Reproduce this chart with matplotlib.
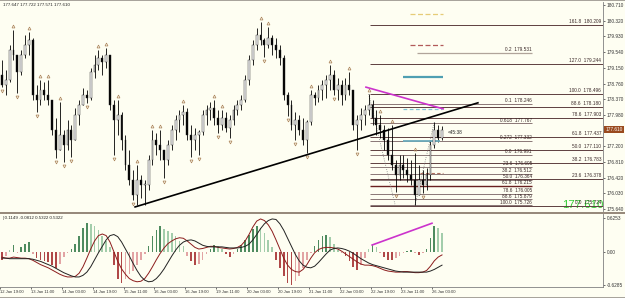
import numpy as np
import matplotlib.pyplot as plt
from matplotlib.patches import Rectangle

plt.rcParams['font.family'] = ['Liberation Sans', 'DejaVu Sans']

# --- price bars ---
first_open = 178.97
highs = [179.35, 179.10, 179.72, 180.09, 179.47, 179.59, 179.97, 180.04, 179.89, 178.72,
         178.85, 178.80, 178.85, 178.35, 177.90, 178.30, 177.60, 177.85, 177.73, 178.15,
         178.35, 178.65, 178.60, 179.15, 179.47, 179.59, 179.47, 179.64, 179.47, 178.35,
         178.35, 178.05, 177.48, 177.11, 176.61, 176.73, 176.49, 176.36, 176.98, 177.60,
         177.53, 177.60, 177.11, 177.36, 177.73, 177.98, 178.10, 178.23, 178.15, 177.73,
         177.65, 177.60, 178.10, 178.23, 178.30, 178.35, 178.10, 178.10, 178.05, 177.98,
         178.23, 178.35, 178.47, 178.97, 179.47, 179.84, 180.14, 180.29, 179.89, 180.17,
         179.97, 179.89, 179.72, 179.47, 178.55, 178.35, 178.05, 177.98, 177.90, 177.85,
         178.60, 178.55, 178.72, 178.85, 178.97, 179.22, 179.10, 178.90, 178.85, 178.90,
         179.05, 178.60, 177.98, 178.15, 178.23, 178.50, 178.35, 178.10, 177.98, 177.73,
         177.65, 177.73, 176.86, 176.98, 176.98, 176.91, 176.86, 177.03, 176.73, 176.61,
         176.66, 177.36, 177.80, 177.73, 177.70]
lows = [178.67, 178.47, 178.80, 179.35, 178.52, 178.97, 179.40, 179.47, 178.35, 178.05,
        178.23, 178.35, 178.23, 177.48, 176.91, 177.11, 176.81, 177.11, 176.93, 177.36,
        177.73, 178.23, 178.28, 178.35, 178.90, 179.10, 178.97, 179.15, 178.10, 176.98,
        177.48, 177.11, 176.61, 176.24, 175.86, 175.74, 175.91, 175.74, 176.11, 176.73,
        176.98, 176.86, 176.41, 176.73, 177.11, 177.36, 177.55, 177.73, 177.36, 176.93,
        177.11, 176.98, 177.48, 177.73, 177.85, 177.73, 177.53, 177.60, 177.55, 177.41,
        177.73, 177.98, 178.10, 178.30, 178.72, 179.22, 179.59, 179.72, 179.42, 179.64,
        179.47, 179.40, 179.22, 178.35, 177.95, 177.60, 177.36, 177.48, 177.23, 177.03,
        177.73, 178.23, 178.30, 178.35, 178.40, 178.60, 178.47, 178.35, 178.23, 178.35,
        178.47, 177.60, 177.11, 177.60, 177.73, 177.98, 177.73, 177.48, 177.41, 177.11,
        176.86, 176.61, 176.06, 176.36, 176.41, 176.31, 176.24, 175.73, 175.99, 176.04,
        176.11, 176.36, 177.16, 177.31, 177.36]
closes = [178.72, 178.85, 179.59, 179.47, 179.05, 179.47, 179.72, 179.84, 178.47, 178.35,
          178.60, 178.47, 178.35, 177.60, 177.11, 177.48, 177.23, 177.60, 177.36, 177.98,
          178.23, 178.47, 178.40, 179.05, 179.22, 179.40, 179.30, 179.47, 178.23, 177.85,
          177.98, 177.36, 176.73, 176.36, 175.99, 176.36, 176.24, 176.24, 176.86, 177.36,
          177.23, 177.11, 176.86, 177.23, 177.60, 177.85, 177.98, 178.05, 177.48, 177.36,
          177.48, 177.55, 177.98, 178.10, 178.15, 177.90, 177.73, 177.90, 177.65, 177.85,
          178.10, 178.23, 178.35, 178.85, 179.35, 179.72, 179.97, 179.84, 179.72, 179.89,
          179.72, 179.59, 179.40, 178.47, 178.23, 177.73, 177.85, 177.60, 177.36, 177.80,
          178.47, 178.40, 178.60, 178.72, 178.85, 178.97, 178.60, 178.72, 178.47, 178.72,
          178.60, 177.73, 177.85, 177.98, 178.10, 178.23, 177.90, 177.73, 177.60, 177.36,
          176.98, 176.73, 176.49, 176.73, 176.61, 176.49, 176.36, 175.99, 176.36, 176.24,
          176.49, 177.23, 177.60, 177.41, 177.61]

up_fractals = [3, 7, 10, 12, 15, 25, 27, 30, 35, 39, 41, 47, 55, 57, 67, 69, 80, 85, 90, 95, 98, 101, 107]
down_fractals = [0, 4, 9, 14, 16, 18, 22, 29, 34, 42, 49, 51, 56, 59, 68, 74, 76, 79, 86, 92, 102, 109]

# --- oscillator ---
hist = [-0.15, -0.08, 0.03, 0.12, -0.02, 0.08, 0.15, 0.19, -0.05, -0.12,
        -0.15, -0.18, -0.20, -0.25, -0.30, -0.22, -0.10, -0.03, 0.05, 0.15,
        0.30, 0.45, 0.53, 0.52, 0.48, 0.40, 0.30, 0.20, 0.08, -0.25,
        -0.50, -0.58, -0.50, -0.42, -0.35, -0.25, -0.15, -0.05, 0.10, 0.30,
        0.40, 0.47, 0.42, 0.38, 0.35, 0.30, 0.20, 0.10, -0.08, -0.18,
        -0.25, -0.22, -0.15, -0.05, 0.05, 0.12, 0.10, 0.05, -0.05, -0.09,
        -0.04, 0.05, 0.12, 0.22, 0.32, 0.42, 0.47, 0.45, 0.35, 0.22,
        0.08, -0.15, -0.30, -0.45, -0.58, -0.62, -0.55, -0.45, -0.30, -0.15,
        -0.03, 0.10, 0.22, 0.30, 0.31, 0.28, 0.15, 0.03, -0.02, -0.08,
        -0.18, -0.28, -0.34, -0.25, -0.12, 0.05, 0.12, 0.08, -0.03, -0.10,
        -0.15, -0.15, -0.12, -0.08, -0.02, 0.02, 0.03, -0.02, -0.06, -0.03,
        0.05, 0.25, 0.47, 0.45, 0.35]
fast_line = [-0.10, -0.12, -0.12, -0.10, -0.11, -0.12, -0.12, -0.13, -0.16, -0.20,
             -0.24, -0.27, -0.30, -0.34, -0.38, -0.42, -0.45, -0.47, -0.47, -0.46,
             -0.40, -0.28, -0.12, 0.05, 0.20, 0.30, 0.33, 0.30, 0.18, 0.00,
             -0.18, -0.32, -0.42, -0.50, -0.54, -0.56, -0.55, -0.50, -0.40, -0.28,
             -0.15, -0.03, 0.07, 0.15, 0.20, 0.24, 0.26, 0.25, 0.20, 0.14,
             0.08, 0.05, 0.06, 0.08, 0.10, 0.10, 0.08, 0.07, 0.06, 0.05,
             0.06, 0.08, 0.12, 0.20, 0.32, 0.46, 0.57, 0.61, 0.58, 0.50,
             0.38, 0.22, 0.05, -0.12, -0.25, -0.33, -0.37, -0.38, -0.33, -0.24,
             -0.12, -0.02, 0.04, 0.07, 0.08, 0.08, 0.07, 0.05, 0.01, -0.04,
             -0.09, -0.14, -0.19, -0.23, -0.25, -0.25, -0.26, -0.28, -0.31, -0.34,
             -0.36, -0.37, -0.38, -0.38, -0.37, -0.37, -0.38, -0.39, -0.39, -0.38,
             -0.35, -0.27, -0.17, -0.10, -0.06]
slow_line = [-0.12, -0.12, -0.13, -0.13, -0.13, -0.13, -0.13, -0.13, -0.14, -0.16,
             -0.18, -0.21, -0.24, -0.27, -0.31, -0.35, -0.39, -0.42, -0.45, -0.47,
             -0.47, -0.44, -0.38, -0.28, -0.15, -0.02, 0.10, 0.22, 0.30, 0.32,
             0.28, 0.18, 0.05, -0.08, -0.22, -0.35, -0.46, -0.53, -0.56, -0.55,
             -0.50, -0.42, -0.32, -0.20, -0.08, 0.03, 0.12, 0.18, 0.21, 0.22,
             0.20, 0.16, 0.12, 0.10, 0.09, 0.09, 0.09, 0.09, 0.08, 0.07,
             0.07, 0.07, 0.08, 0.10, 0.14, 0.22, 0.32, 0.43, 0.52, 0.58,
             0.61, 0.60, 0.52, 0.40, 0.25, 0.10, -0.05, -0.17, -0.25, -0.29,
             -0.30, -0.27, -0.20, -0.12, -0.04, 0.03, 0.06, 0.07, 0.06, 0.04,
             0.01, -0.03, -0.08, -0.13, -0.17, -0.21, -0.24, -0.26, -0.28, -0.30,
             -0.32, -0.34, -0.36, -0.37, -0.38, -0.38, -0.38, -0.38, -0.38, -0.38,
             -0.38, -0.36, -0.33, -0.29, -0.25]

time_labels = ["12 Jan 19:00", "13 Jan 11:00", "14 Jan 03:00", "14 Jan 19:00", "15 Jan 11:00",
               "16 Jan 03:00", "16 Jan 19:00", "19 Jan 11:00", "20 Jan 03:00", "20 Jan 19:00",
               "21 Jan 11:00", "22 Jan 03:00", "22 Jan 19:00", "23 Jan 11:00", "26 Jan 03:00"]
price_ticks = [180.710, 180.320, 179.930, 179.540, 179.150, 178.760, 178.370, 177.980,
               177.200, 176.810, 176.420, 176.030, 175.640]
osc_ticks = [0.6253, 0.0, -0.6285]
osc_tick_labels = ["0.6253", "0.00", "-0.6285"]

# fibonacci levels: (label, price)
fib_big = [("161.8", 180.209), ("127.0", 179.244), ("100.0", 178.496), ("88.6", 178.180),
           ("78.6", 177.903), ("61.8", 177.437), ("50.0", 177.110), ("38.2", 176.783),
           ("23.6", 176.378), ("0.0", 175.724)]
fib_small = [("0.1", 178.246), ("0.618", 177.767), ("0.272", 177.332), ("0.0", 176.991),
             ("23.6", 176.695), ("38.2", 176.512), ("50.0", 176.364), ("61.8", 176.215),
             ("78.6", 176.005), ("88.6", 175.879), ("100.0", 175.726)]
fib_far = ("0.2", 179.531)

trend_x = [34.5, 123.3]
trend_y = [175.69, 178.28]
magenta_x = [94.3, 114.3]
magenta_y = [178.67, 178.13]
osc_magenta_x = [95.9, 111.4]
osc_magenta_y = [0.125, 0.53]

bg = '#fefef2'
W, H = 625, 298
fig = plt.figure(figsize=(W / 100, H / 100), dpi=100, facecolor=bg)

ax = fig.add_axes([0, 1 - 211 / H, 603 / W, 209 / H], facecolor=bg)
ax2 = fig.add_axes([0, 1 - 287 / H, 603 / W, 73 / H], facecolor=bg)

n = len(closes)
x = np.arange(n)
opens = [first_open] + closes[:-1]
xmin, xmax = -0.49, 155.7

# candles
ax.vlines(x, lows, highs, color='black', lw=0.6, zorder=3)
for i in range(n):
    o, c = opens[i], closes[i]
    face = '#f4f4f4' if c >= o else 'black'
    ax.bar(i, max(abs(c - o), 0.012), bottom=min(o, c), width=0.48,
           color=face, edgecolor='#202020', linewidth=0.3, zorder=4)

# fractals
fr_col = '#a88056'
ax.plot([i for i in up_fractals], [highs[i] + 0.10 for i in up_fractals], ls='none',
        marker='^', ms=2.1, mfc='none', mec=fr_col, mew=0.5, zorder=5)
ax.plot([i for i in down_fractals], [lows[i] - 0.10 for i in down_fractals], ls='none',
        marker='v', ms=2.1, mfc='none', mec=fr_col, mew=0.5, zorder=5)

# fibonacci levels
for lab, p in fib_big:
    ax.hlines(p, 95.4, xmax, color='#5e3f3f', lw=0.7, zorder=2)
    ax.text(155.2, p + 0.02, f"{lab}  {p:.3f}", ha='right', va='bottom', fontsize=3.4, color='#3a2828')
for lab, p in fib_small:
    col, lw = ('#6a2020', 1.0) if lab == "61.8" else ('#8a7676', 0.7)
    ax.hlines(p, 95.4, 137.3, color=col, lw=lw, zorder=2)
    ax.text(137.3, p + 0.02, f"{lab}  {p:.3f}", ha='right', va='bottom', fontsize=3.4, color='#3a2828')
ax.hlines(fib_far[1], 107.5, 137.3, color='#b0a49a', lw=0.9, zorder=2)
ax.text(137.3, fib_far[1] + 0.02, f"{fib_far[0]}  {fib_far[1]:.3f}", ha='right', va='bottom',
        fontsize=3.4, color='#3a2828')

# short marker lines
ax.hlines(180.49, 105.7, 114.3, color='#e6cc77', lw=0.9, linestyles=(0, (4, 2)))
ax.hlines(179.72, 105.7, 114.3, color='#b25a5a', lw=0.9, linestyles=(0, (4, 2)))
ax.hlines(178.92, 104.0, 114.3, color='#4f9fb2', lw=1.6)
ax.hlines(178.13, 104.0, 114.0, color='#7fc4d4', lw=0.9, linestyles=(0, (3, 2)))
ax.hlines(177.32, 104.0, 113.5, color='#6aaabb', lw=1.3, zorder=3)
ax.hlines(176.53, 108.3, 114.3, color='#b07060', lw=0.8, linestyles=(0, (3, 2)))

# zigzag dotted
ax.plot([95, 101.8], [178.50, 175.76], color='#808080', lw=0.6, ls=':')
ax.plot([107, 112], [175.73, 177.80], color='#808080', lw=0.6, ls=':')

# trend lines
ax.plot(trend_x, trend_y, color='black', lw=1.2, zorder=6)
ax.plot(magenta_x, magenta_y, color='#cc33cc', lw=1.2, zorder=6)

ax.text(115.6, 177.53, '<45:38', fontsize=3.4, va='center', color='#222222')
ax.text(1.0, 0.028, '177.610', transform=ax.transAxes, ha='right', va='center',
        fontsize=8.2, color='#33cc33', zorder=1)
ax.text(1.004, 177.61, '177.610', transform=ax.get_yaxis_transform(), ha='left', va='center',
        fontsize=3.4, color='white', zorder=10, clip_on=False,
        bbox=dict(boxstyle='square,pad=0.25', facecolor='#9a4a1e', edgecolor='none'))

ax.set_xlim(xmin, xmax)
ax.set_ylim(175.589, 180.788)
ax.yaxis.tick_right()
ax.set_yticks(price_ticks)
ax.set_yticklabels([f"{p:.3f}" for p in price_ticks])
ax.tick_params(axis='y', labelsize=3.4, length=1.5, width=0.5, pad=1, colors='#333333')
ax.set_xticks([])
for s in ['top', 'left', 'bottom']:
    ax.spines[s].set_visible(False)
ax.spines['right'].set_color('#808080')
ax.spines['right'].set_linewidth(0.6)

# oscillator
hc = []
for i, v in enumerate(hist):
    prev = hist[i - 1] if i > 0 else 0
    growing = abs(v) >= abs(prev)
    if v >= 0:
        hc.append('#4e8b5f' if growing else '#a3cdab')
    else:
        hc.append('#b04848' if growing else '#e2a4a4')
ax2.bar(x, hist, width=0.42, color=hc, linewidth=0)
ax2.plot(x, fast_line, color='#8c1c1c', lw=0.7)
ax2.plot(x, slow_line, color='#222222', lw=0.7)
ax2.plot(osc_magenta_x, osc_magenta_y, color='#cc33cc', lw=1.2)

ax2.set_xlim(xmin, xmax)
ax2.set_ylim(-0.657, 0.702)
ax2.yaxis.tick_right()
ax2.set_yticks(osc_ticks)
ax2.set_yticklabels(osc_tick_labels)
ax2.tick_params(axis='y', labelsize=3.4, length=1.5, width=0.5, pad=1, colors='#333333')
ax2.set_xticks(np.arange(len(time_labels)) * 8 - 0.5)
ax2.set_xticklabels(time_labels, ha='left')
ax2.tick_params(axis='x', labelsize=3.0, length=1.5, width=0.5, pad=0.8, colors='#333333')
for s in ['top', 'left']:
    ax2.spines[s].set_visible(False)
for s in ['right', 'bottom']:
    ax2.spines[s].set_color('#808080')
    ax2.spines[s].set_linewidth(0.6)

# frame bits
fig.add_artist(Rectangle((0, 1 - 214.3 / H), 1, 2.8 / H, transform=fig.transFigure,
                         color='#978a7c', lw=0))
fig.add_artist(Rectangle((0, 1 - 1.2 / H), 1, 1.2 / H, transform=fig.transFigure,
                         color='#a8a49c', lw=0))
fig.add_artist(Rectangle((0, 0), 1, 1.2 / H, transform=fig.transFigure,
                         color='#a8a49c', lw=0))

fig.text(3 / W, 1 - 5 / H, '177.647 177.722 177.571 177.610', fontsize=3.2,
         va='center', color='#222222')
fig.text(2 / W, 1 - 218.5 / H, ') 0.1149 -0.0812 0.5322 0.5322', fontsize=3.2,
         va='center', color='#222222')

fig.savefig('out.png', dpi=100, facecolor=bg)
